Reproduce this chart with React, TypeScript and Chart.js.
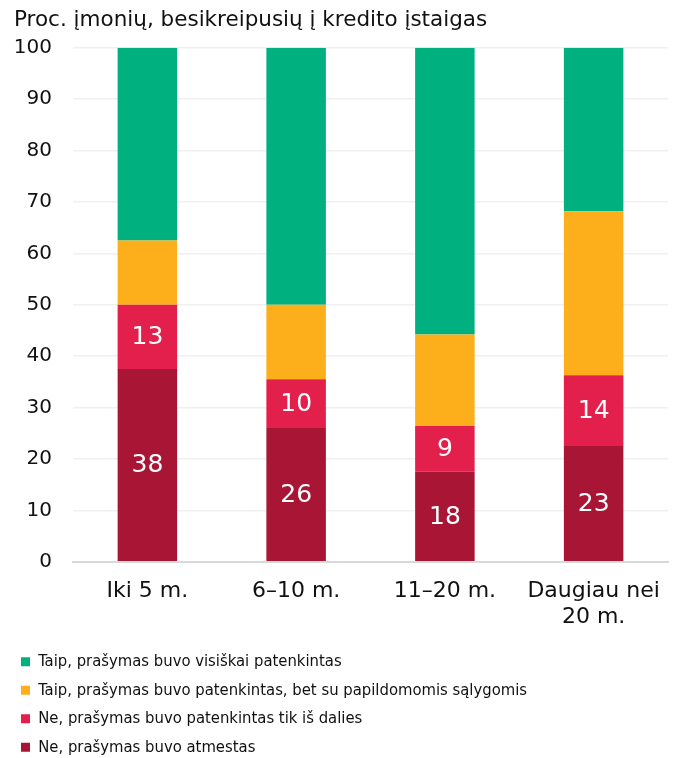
import React, { useEffect, useRef } from "react";
import { Chart, registerables } from "chart.js";

Chart.register(...registerables);

const categories: (string | string[])[] = ["Iki 5 m.", "6–10 m.", "11–20 m.", ["Daugiau nei", "20 m."]];
const seriesNames = [
  "Ne, prašymas buvo atmestas",
  "Ne, prašymas buvo patenkintas tik iš dalies",
  "Taip, prašymas buvo patenkintas, bet su papildomomis sąlygomis",
  "Taip, prašymas buvo visiškai patenkintas",
];
const rejected = [37.5, 26.0, 17.5, 22.5];
const partial = [12.5, 9.5, 8.9, 13.8];
const conditional = [12.5, 14.5, 17.8, 31.9];
const full = [37.5, 50.0, 55.8, 31.8];
const yTicks = [0, 10, 20, 30, 40, 50, 60, 70, 80, 90, 100];
const titleText = "Proc. įmonių, besikreipusių į kredito įstaigas";

const colors = ["#A91535", "#E31F4B", "#FCAF1A", "#00B07F"];
const FONT = "'DejaVu Sans', Verdana, sans-serif";
const LEGEND_FONT = "'DejaVu Sans Condensed', 'DejaVu Sans', sans-serif";

const labelPlugin = {
  id: "barLabels",
  afterDatasetsDraw(chart: any) {
    const ctx = chart.ctx;
    ctx.save();
    ctx.fillStyle = "#ffffff";
    ctx.font = `25px ${FONT}`;
    ctx.textAlign = "center";
    ctx.textBaseline = "middle";
    [0, 1].forEach((di) => {
      const meta = chart.getDatasetMeta(di);
      meta.data.forEach((el: any, i: number) => {
        const v = chart.data.datasets[di].data[i] as number;
        const y = (el.y + el.base) / 2;
        ctx.fillText(String(Math.round(v)), el.x, y + 1);
      });
    });
    ctx.restore();
  },
};

// one legend item per row
const legendRowsPlugin = {
  id: "legendRows",
  beforeLayout(chart: any) {
    const lg = chart.legend;
    if (lg && !lg.__oneRow) {
      const origFit = lg._fitRows.bind(lg);
      lg._fitRows = (...args: any[]) => {
        const mw = lg.maxWidth;
        lg.maxWidth = 1;
        const r = origFit(...args);
        lg.maxWidth = mw;
        return r;
      };
      const origDraw = lg._draw.bind(lg);
      lg._draw = () => {
        const l = lg.left;
        const r = lg.right;
        lg.left = l - 5;
        lg.right = lg.left + 300;
        origDraw();
        lg.left = l;
        lg.right = r;
      };
      lg.__oneRow = true;
    }
  },
};

export default function App() {
  const ref = useRef<HTMLCanvasElement | null>(null);
  useEffect(() => {
    document.body.style.margin = "0";
    if (!ref.current) return;
    const values = [rejected, partial, conditional, full];
    const chart = new Chart(ref.current, {
      type: "bar",
      data: {
        labels: categories as any,
        datasets: values.map((d, i) => ({
          label: seriesNames[i],
          data: d,
          backgroundColor: colors[i],
          borderWidth: 0,
          barPercentage: 0.4,
          categoryPercentage: 1,
        })),
      },
      options: {
        animation: false,
        responsive: false,
        maintainAspectRatio: false,
        layout: { padding: { left: 14, right: 9, top: 8, bottom: -7.5 } },
        plugins: {
          title: {
            display: true,
            text: titleText,
            align: "start",
            color: "#111111",
            font: { family: FONT, size: 21.5, weight: "normal" },
            padding: { top: 0, bottom: 14 },
          },
          legend: {
            position: "bottom",
            align: "start",
            reverse: true,
            labels: {
              boxWidth: 9,
              boxHeight: 9,
              color: "#111111",
              padding: 12,
              font: { family: LEGEND_FONT, size: 16.5 },
            },
          },
          tooltip: { enabled: false },
        },
        scales: {
          x: {
            stacked: true,
            grid: { display: false, drawTicks: false },
            border: { display: true, color: "#d9d9d9", width: 2 },
            afterFit: (scale: any) => {
              scale.height -= 5;
            },
            ticks: {
              color: "#111111",
              padding: 16,
              maxRotation: 0,
              font: { family: FONT, size: 22 },
            },
          },
          y: {
            stacked: true,
            min: 0,
            max: 100,
            afterBuildTicks: (axis: any) => {
              axis.ticks = yTicks.map((v) => ({ value: v }));
            },
            afterFit: (scale: any) => {
              scale.width = 59;
            },
            grid: { color: "#f0f0f0", lineWidth: 1.5, drawTicks: false },
            border: { display: false },
            ticks: {
              color: "#111111",
              padding: 21,
              font: { family: FONT, size: 20 },
            },
          },
        },
      },
      plugins: [labelPlugin, legendRowsPlugin],
    });
    return () => chart.destroy();
  }, []);
  return (
    <div style={{ width: 677, height: 758 }}>
      <canvas ref={ref} width={677} height={758} style={{ display: "block" }} />
    </div>
  );
}
